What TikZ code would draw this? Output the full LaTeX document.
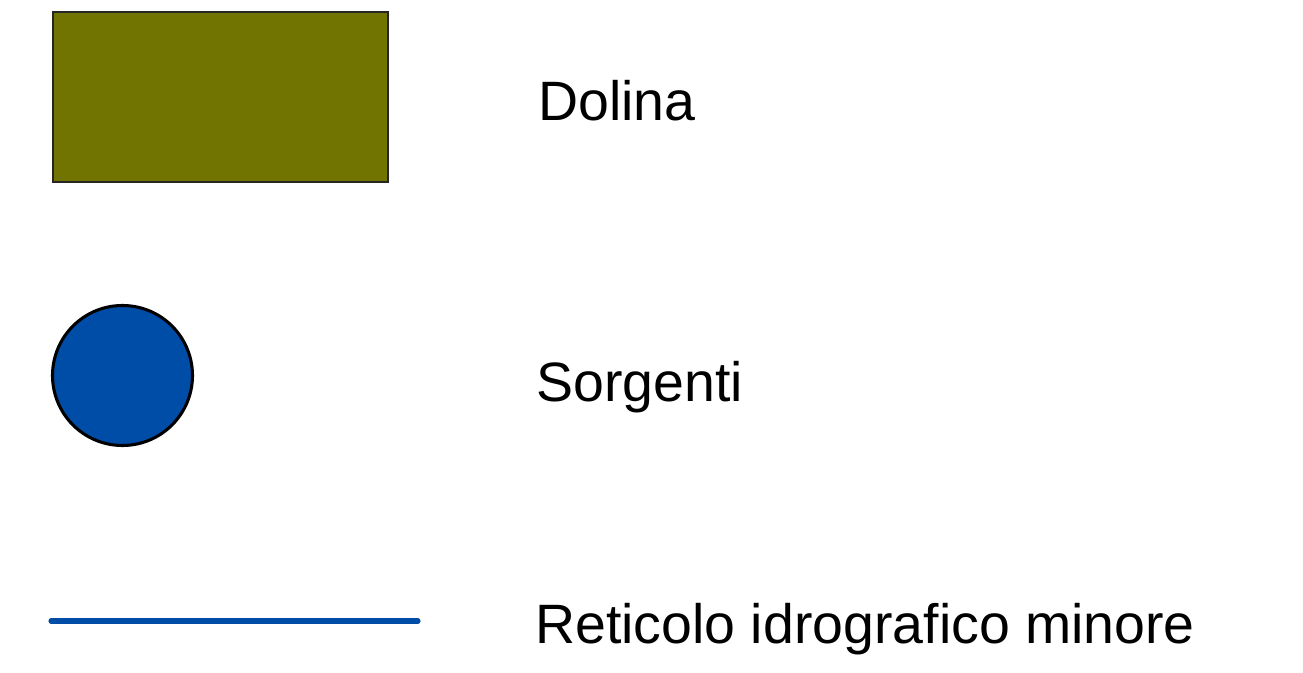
\documentclass[tikz,border=0pt]{standalone}
\usepackage{fontspec}
\setmainfont{Liberation Sans}
\usepackage{xcolor}
\definecolor{dolinaolive}{RGB}{113,116,0}
\definecolor{sorgentiblu}{RGB}{0,77,168}
\usetikzlibrary{calc}

\begin{document}
\begin{tikzpicture}[x=0.75pt,y=-0.75pt,
                    every node/.style={font=\fontsize{41.6}{50}\selectfont},
                    voce/.style={anchor=base west,inner sep=0pt}]
        \useasboundingbox (0,0) rectangle (1303,673);
        % simboli
        \node[draw=black!85,line width=0.9pt,fill=dolinaolive,
              minimum width=335*0.75pt,minimum height=170*0.75pt,
              inner sep=0pt] (dolina) at (220.5,97) {};
        \node[circle,draw=black,line width=2.3pt,fill=sorgentiblu,
              minimum size=140*0.75pt,inner sep=0pt] (sorgente) at (122.5,375.5) {};
        \coordinate (retA) at (51,621);
        \coordinate (retB) at (418,621);
        \draw[sorgentiblu,line width=3.8pt,line cap=round] (retA) -- (retB);
        % voci della legenda
        \node[voce] (tdolina)   at (538,121) {Dolina};
        \node[voce] (tsorgenti) at (536,402) {Sorgenti};
        \node[voce] (treticolo) at (535,643) {Reticolo idrografico minore};
      \end{tikzpicture}
\end{document}
